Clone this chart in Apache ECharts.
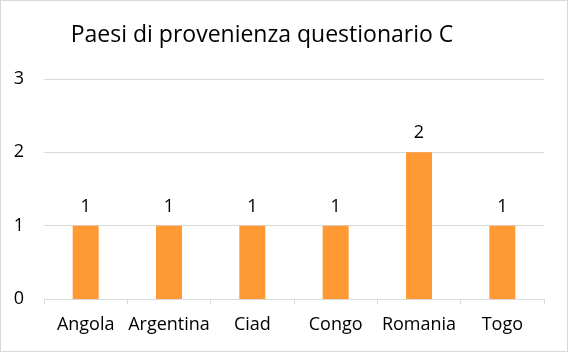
<!DOCTYPE html>
<html>
<head>
<meta charset="utf-8">
<script src="https://cdn.jsdelivr.net/npm/echarts@6/dist/echarts.min.js"></script>
<style>
html, body { margin: 0; padding: 0; background: #fff; }
#chart { width: 566px; height: 350px; border: 1px solid #d9d9d9; }
</style>
</head>
<body>
<div id="chart"></div>
<script>
var categories = ['Angola', 'Argentina', 'Ciad', 'Congo', 'Romania', 'Togo'];
var values = [1, 1, 1, 1, 2, 1];
var yTicks = [0, 1, 2, 3];

var chart = echarts.init(document.getElementById('chart'));

var option = {
	animation: false,
	title: {
		text: 'Paesi di provenienza questionario C',
		left: 256,
		top: 18,
		textAlign: 'center',
		textStyle: {
			fontFamily: 'Open Sans',
			fontSize: 23,
			fontWeight: 'normal',
			color: '#000'
		}
	},
	grid: {
		left: 43,
		right: 23,
		top: 78,
		bottom: 52
	},
	xAxis: {
		type: 'category',
		data: categories,
		axisLine: { lineStyle: { color: '#d9d9d9' } },
		axisTick: { show: true, length: 5, lineStyle: { color: '#d9d9d9' } },
		axisLabel: {
			interval: 0,
			color: '#000',
			fontFamily: 'Open Sans',
			fontSize: 18,
			margin: 17
		}
	},
	yAxis: {
		type: 'value',
		min: yTicks[0],
		max: yTicks[yTicks.length - 1],
		interval: 1,
		axisLine: { show: false },
		axisTick: { show: false },
		splitLine: { lineStyle: { color: '#d9d9d9' } },
		axisLabel: {
			color: '#000',
			fontFamily: 'Open Sans',
			fontSize: 18,
			margin: 20
		}
	},
	series: [{
		type: 'bar',
		data: values,
		barWidth: 26,
		itemStyle: { color: '#ff9933' },
		label: {
			show: true,
			position: 'top',
			distance: 10,
			color: '#000',
			fontFamily: 'Open Sans',
			fontSize: 18
		}
	}]
};

chart.setOption(option);
</script>
</body>
</html>
